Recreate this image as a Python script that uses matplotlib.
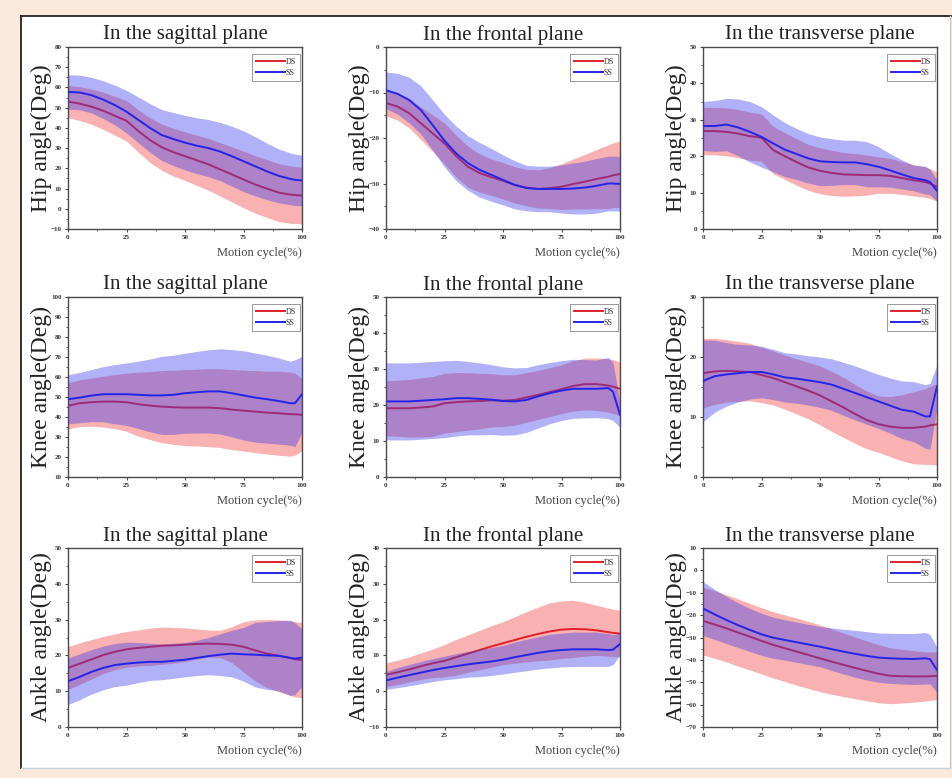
import matplotlib
matplotlib.use("Agg")
import matplotlib.pyplot as plt
from matplotlib.patches import Rectangle
from matplotlib.lines import Line2D
from matplotlib.ticker import MultipleLocator
import numpy as np

plt.rcParams['font.family'] = ['Liberation Serif', 'DejaVu Serif']

# ---------------- data ----------------
x_pct = [0, 5, 10, 15, 20, 25, 30, 35, 40, 45, 50, 55, 60, 65, 70, 75, 80, 85, 90, 95, 97, 100]

titles = ["In the sagittal plane", "In the frontal plane", "In the transverse plane"]
joints = ["Hip angle(Deg)", "Knee angle(Deg)", "Ankle angle(Deg)"]
series_names = ["DS", "SS"]
xlabel_text = "Motion cycle(%)"

# Hip
hip_sag_ds_mean = [53, 52, 50.5, 48.5, 46, 43.5, 38.5, 34, 30.5, 28, 26, 24, 22, 19.5, 17, 14.5, 12, 10, 8, 7, 6.8, 6.5]
hip_sag_ds_sd = [8, 8.3, 8.7, 9.2, 9.6, 10, 10.5, 11, 11.4, 11.8, 12, 12.4, 12.8, 13.2, 13.6, 14, 14.2, 14.3, 14.3, 14.2, 14.1, 14]
hip_sag_ss_mean = [57.8, 57.5, 56.2, 54, 51.3, 48, 44, 40, 36.5, 34.5, 32.7, 31.2, 30, 28.3, 26, 23.5, 21, 18.5, 16.3, 14.8, 14.3, 14]
hip_sag_ss_sd = [8.5, 8.6, 8.8, 9.3, 9.8, 10.5, 11.3, 12, 12.6, 13.1, 13.5, 13.8, 14.1, 14.4, 14.8, 15, 14.6, 14, 13.3, 12.8, 12.7, 12.5]

hip_fro_ds_mean = [-12.3, -13.1, -14.6, -16.8, -19, -21.2, -24, -26.3, -27.7, -28.6, -29.4, -30.3, -30.9, -31.2, -31, -30.7, -30.1, -29.6, -29, -28.5, -28.2, -27.9]
hip_fro_ds_sd = [2.8, 3, 3.2, 3.6, 4, 4.5, 4.6, 4.5, 4.2, 4, 4, 4, 4, 4.2, 4.5, 5, 5.5, 6, 6.5, 7, 7.1, 7.3]
hip_fro_ss_mean = [-9.5, -10.3, -11.7, -13.9, -17.2, -20.6, -23.4, -25.5, -27, -28.1, -29.2, -30.3, -31, -31.2, -31.2, -31.2, -31.1, -30.9, -30.5, -30, -30, -30.1]
hip_fro_ss_sd = [4, 4.5, 5, 5.3, 5.5, 5.8, 6, 6, 6, 5.8, 5.5, 5.3, 5, 5, 5, 5.3, 5.6, 5.8, 6, 6, 6, 6]

hip_tra_ds_mean = [26.9, 26.9, 26.7, 26.2, 25.5, 25.1, 21.7, 20, 18.4, 16.9, 16, 15.4, 15, 14.9, 14.8, 14.8, 14.6, 14, 13.4, 12.9, 12.5, 11.6]
hip_tra_ds_sd = [6.5, 6.5, 6.6, 6.6, 6.6, 6.5, 6.5, 6.4, 6.4, 6.3, 6.3, 6.2, 6, 5.8, 5.5, 5, 4.8, 4.5, 4.3, 4.2, 4.1, 4]
hip_tra_ss_mean = [28.3, 28.3, 28.7, 27.9, 26.7, 25.3, 23.5, 21.8, 20.6, 19.4, 18.6, 18.4, 18.3, 18.3, 17.8, 17.1, 16.1, 15, 14, 13.4, 12.9, 10.5]
hip_tra_ss_sd = [6.7, 7, 7.2, 7.8, 8.3, 8.3, 7.8, 7.4, 7, 6.8, 6.7, 6.4, 6.1, 6.1, 6.2, 5.5, 4.6, 4, 3.5, 3.8, 3.5, 2.9]

# Knee
knee_sag_ds_mean = [45.6, 46.9, 47.4, 47.7, 47.7, 47.4, 46.4, 45.7, 45.2, 44.9, 44.7, 44.7, 44.7, 44.4, 43.7, 43.2, 42.7, 42.2, 41.9, 41.4, 41.4, 41.1]
knee_sag_ds_sd = [11.5, 11.7, 12, 12.7, 13.5, 14.5, 16, 17, 18, 18.5, 19, 19.2, 19.5, 19.7, 20, 20.2, 20.5, 20.7, 21, 21, 20.5, 18]
knee_sag_ss_mean = [48.9, 49.7, 50.7, 51.4, 51.4, 51.4, 51.1, 50.8, 50.8, 51.1, 51.9, 52.4, 52.8, 52.8, 51.9, 50.8, 49.7, 48.9, 48, 46.9, 46.9, 51.4]
knee_sag_ss_sd = [12.2, 12.6, 13, 13.8, 14.8, 15.6, 16.8, 18.2, 19.5, 19.8, 20, 20.4, 20.8, 21.3, 21.8, 22.3, 22.3, 22, 21.5, 21, 21.7, 19]

knee_fro_ds_mean = [19.1, 19.1, 19.1, 19.3, 19.6, 20.5, 20.8, 21, 21.1, 21.3, 21.2, 21.4, 22.1, 22.8, 23.6, 24.4, 25.3, 25.8, 25.8, 25.4, 25.1, 24.5]
knee_fro_ds_sd = [7.6, 7.8, 8, 8.2, 8.3, 8.3, 8.2, 8, 7.7, 7.4, 7.2, 7, 6.9, 6.8, 6.8, 6.8, 7, 7.2, 7.3, 7.4, 7.5, 7.5]
knee_fro_ss_mean = [21, 21, 21, 21.2, 21.4, 21.6, 21.9, 21.9, 21.7, 21.5, 21.1, 21, 21.4, 22.4, 23.3, 24, 24.5, 24.5, 24.5, 24.7, 23.7, 17.3]
knee_fro_ss_sd = [10.7, 10.7, 10.7, 10.7, 10.7, 10.7, 10.5, 10.2, 10, 9.7, 9.5, 9.3, 9, 8.8, 8.5, 8.3, 8.2, 8.1, 8, 8.5, 8, 3.5]

knee_tra_ds_mean = [17.3, 17.6, 17.7, 17.6, 17.5, 17, 16.5, 15.8, 15.1, 14.4, 13.6, 12.6, 11.6, 10.5, 9.5, 8.8, 8.4, 8.2, 8.2, 8.4, 8.6, 8.8]
knee_tra_ds_sd = [5.8, 5.5, 5.2, 5, 4.8, 4.6, 4.5, 4.5, 4.6, 4.7, 4.9, 5, 5, 4.9, 4.8, 4.7, 5, 5.5, 6, 6.3, 6.5, 6.8]
knee_tra_ss_mean = [16, 16.8, 17.1, 17.3, 17.5, 17.5, 17.1, 16.6, 16.4, 16.1, 15.8, 15.4, 14.7, 14, 13.3, 12.6, 11.9, 11.2, 10.9, 10.1, 10.1, 15.1]
knee_tra_ss_sd = [6.8, 6, 5.3, 4.8, 4.5, 4.3, 4.2, 4.1, 4.1, 4.1, 4.2, 4.3, 4.4, 4.5, 4.5, 4.5, 4.6, 4.8, 5, 5.3, 5.5, 3.6]

# Ankle
ankle_sag_ds_mean = [16.5, 17.7, 18.9, 20.1, 21, 21.7, 22.1, 22.4, 22.7, 22.8, 23, 23.2, 23.3, 23.2, 23, 22.4, 21.4, 20.5, 19.9, 19.3, 18.9, 18.7]
ankle_sag_ds_sd = [6, 5.8, 5.5, 5.2, 5, 5, 5, 5.2, 5.2, 5, 4.7, 4.2, 3.8, 3.8, 5, 7, 8.5, 9.5, 10, 10.5, 10.5, 10.5]
ankle_sag_ss_mean = [12.8, 14, 15.4, 16.5, 17.3, 17.7, 18, 18.2, 18.2, 18.5, 18.8, 19.3, 19.8, 20.2, 20.5, 20.3, 20.2, 20, 19.9, 19.3, 19.1, 19.4]
ankle_sag_ss_sd = [6.5, 6.4, 6.2, 6.1, 6, 6, 5.6, 5.2, 5, 4.9, 4.8, 4.9, 5.2, 5.8, 6.5, 7.5, 9, 9.5, 9.8, 10.5, 10, 8]

ankle_fro_ds_mean = [4.6, 5.3, 6.1, 7, 7.8, 8.5, 9.5, 10.5, 11.5, 12.5, 13.4, 14.3, 15.2, 16, 16.7, 17.2, 17.4, 17.3, 17, 16.5, 16.3, 16.1]
ankle_fro_ds_sd = [3.3, 3.4, 3.5, 3.7, 4, 4.5, 5, 5.2, 5.5, 5.8, 6, 6.5, 7, 7.5, 8, 8, 8, 7.5, 7, 6.7, 6.6, 6.5]
ankle_fro_ss_mean = [3, 3.8, 4.5, 5.2, 5.9, 6.5, 7, 7.5, 7.9, 8.3, 8.8, 9.5, 10.1, 10.7, 11.2, 11.5, 11.7, 11.7, 11.7, 11.5, 11.6, 13.2]
ankle_fro_ss_sd = [2.5, 2.8, 3, 3.1, 3.2, 3.3, 3.5, 3.6, 3.8, 3.9, 4, 4.2, 4.4, 4.5, 4.7, 4.7, 4.8, 4.8, 4.8, 4.6, 4.2, 3]

ankle_tra_ds_mean = [-22.6, -24.2, -25.9, -27.8, -29.6, -31.5, -33.3, -34.8, -36.3, -37.8, -39.3, -40.8, -42.2, -43.6, -44.9, -46.2, -47.1, -47.3, -47.4, -47.4, -47.3, -47.1]
ankle_tra_ds_sd = [15.2, 15.1, 15, 15, 14.9, 14.8, 14.8, 14.9, 15, 15, 14.9, 14.6, 14.2, 13.8, 13.4, 13, 12.5, 12, 11.5, 11, 10.8, 10.7]
ankle_tra_ss_mean = [-17, -19.7, -22.2, -24.5, -26.6, -28.6, -30.1, -31.1, -32.1, -33.1, -34.1, -35.2, -36.3, -37.3, -38.2, -39, -39.3, -39.5, -39.6, -39.3, -39.7, -44.5]
ankle_tra_ss_sd = [12, 11.2, 10.5, 10, 9.6, 9.4, 9.2, 9, 9, 9, 9, 9.5, 10, 10.5, 10.8, 11, 11.2, 11.3, 11.4, 11.5, 11, 10]

# y-axis ranges (min, max, step) per panel
y_ranges = [
    [(-10, 80, 10), (-40, 0, 10), (0, 50, 10)],
    [(10, 100, 10), (0, 50, 10), (0, 30, 10)],
    [(0, 50, 10), (-10, 40, 10), (-70, 10, 10)],
]
x_ticks = [0, 25, 50, 75, 100]

panels = [
    [(hip_sag_ds_mean, hip_sag_ds_sd, hip_sag_ss_mean, hip_sag_ss_sd),
     (hip_fro_ds_mean, hip_fro_ds_sd, hip_fro_ss_mean, hip_fro_ss_sd),
     (hip_tra_ds_mean, hip_tra_ds_sd, hip_tra_ss_mean, hip_tra_ss_sd)],
    [(knee_sag_ds_mean, knee_sag_ds_sd, knee_sag_ss_mean, knee_sag_ss_sd),
     (knee_fro_ds_mean, knee_fro_ds_sd, knee_fro_ss_mean, knee_fro_ss_sd),
     (knee_tra_ds_mean, knee_tra_ds_sd, knee_tra_ss_mean, knee_tra_ss_sd)],
    [(ankle_sag_ds_mean, ankle_sag_ds_sd, ankle_sag_ss_mean, ankle_sag_ss_sd),
     (ankle_fro_ds_mean, ankle_fro_ds_sd, ankle_fro_ss_mean, ankle_fro_ss_sd),
     (ankle_tra_ds_mean, ankle_tra_ds_sd, ankle_tra_ss_mean, ankle_tra_ss_sd)],
]

# ---------------- layout ----------------
W, H = 952, 778
fig = plt.figure(figsize=(W / 100, H / 100), dpi=100)
fig.patch.set_facecolor('#fbe9dc')

def fx(px):
    return px / W

def fy(py):
    return 1 - py / H

# white panel with frame
fig.add_artist(Rectangle((fx(21), fy(768)), fx(950) - fx(21), fy(16) - fy(768),
                         transform=fig.transFigure, facecolor='white', edgecolor='none', zorder=0))
fig.add_artist(Line2D([fx(21), fx(21)], [fy(768), fy(16)], transform=fig.transFigure, color='#222222', lw=1.3))
fig.add_artist(Line2D([fx(21), fx(952)], [fy(16), fy(16)], transform=fig.transFigure, color='#222222', lw=1.3))
fig.add_artist(Line2D([fx(950), fx(950)], [fy(768), fy(16)], transform=fig.transFigure, color='#c8c8c8', lw=1.0))
fig.add_artist(Line2D([fx(21), fx(950)], [fy(768), fy(768)], transform=fig.transFigure, color='#c8d0d8', lw=1.0))

col_left = [68, 386, 703]
ax_w = 234
row_top = [47, 297, 548]
row_bot = [229, 477, 727]

ds_line = '#e0202a'
ss_line = '#2424e8'
ds_fill = (240 / 255, 60 / 255, 60 / 255)
ss_fill = (60 / 255, 60 / 255, 235 / 255)
spine_c = '#4a4a4a'

for r in range(3):
    for c in range(3):
        ds_m, ds_s, ss_m, ss_s = [np.array(a, dtype=float) for a in panels[r][c]]
        x = np.array(x_pct, dtype=float)
        left, top, bot = col_left[c], row_top[r], row_bot[r]
        ax = fig.add_axes([fx(left), fy(bot), ax_w / W, (bot - top) / H])
        ax.fill_between(x, ds_m - ds_s, ds_m + ds_s, color=ds_fill, alpha=0.4, lw=0, zorder=1)
        ax.plot(x, ds_m, color=ds_line, lw=1.4, zorder=2, label=series_names[0])
        ax.fill_between(x, ss_m - ss_s, ss_m + ss_s, color=ss_fill, alpha=0.4, lw=0, zorder=3)
        ax.plot(x, ss_m, color=ss_line, lw=1.4, zorder=4, label=series_names[1])

        ymin, ymax, ystep = y_ranges[r][c]
        ax.set_xlim(0, 100)
        ax.set_ylim(ymin, ymax)
        ax.set_xticks(x_ticks)
        ax.set_yticks(np.arange(ymin, ymax + 0.1, ystep))
        ax.xaxis.set_minor_locator(MultipleLocator(12.5))
        ax.yaxis.set_minor_locator(MultipleLocator(ystep / 2))
        ax.tick_params(which='major', direction='out', length=2.5, width=0.8, color=spine_c,
                       labelsize=5, labelcolor='#333333', pad=2)
        ax.tick_params(which='minor', direction='out', length=1.5, width=0.6, color=spine_c)
        for lab in ax.get_xticklabels() + ax.get_yticklabels():
            lab.set_fontweight('bold')
        for sp in ax.spines.values():
            sp.set_color(spine_c)
            sp.set_linewidth(1.0)

        leg = ax.legend(loc='upper right', bbox_to_anchor=(0.993, 0.962), fontsize=5.8,
                        handlelength=3.6, handletextpad=0.1, labelspacing=0.4,
                        borderpad=0.5, borderaxespad=0, fancybox=False, framealpha=1,
                        edgecolor='#888888')
        leg.get_frame().set_linewidth(0.6)
        for t in leg.get_texts():
            t.set_color('#333333')

        cx = left + ax_w / 2
        fig.text(fx(cx), fy(top - 12), titles[c], ha='center', va='center', fontsize=15, color='#222222')
        fig.text(fx(left - 27), fy((top + bot) / 2), joints[r], rotation=90, ha='center', va='center',
                 fontsize=17, color='#222222')
        fig.text(fx(left + ax_w), fy(bot + 24), xlabel_text, ha='right', va='center', fontsize=9,
                 color='#444444')

fig.savefig('out.png', dpi=100, facecolor=fig.get_facecolor())
